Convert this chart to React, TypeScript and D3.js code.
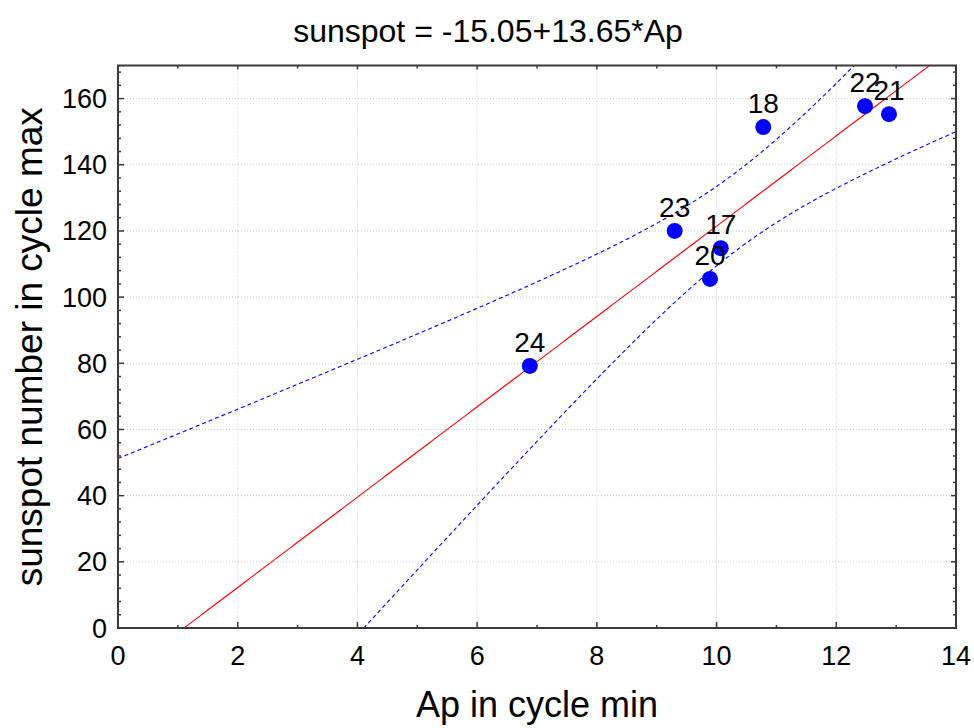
import React from "react";
import * as d3 from "d3";

const cycles = ["17", "18", "20", "21", "22", "23", "24"];
const apMin = [10.07, 10.78, 9.89, 12.88, 12.48, 9.3, 6.88];
const sunspotMax = [114.8, 151.4, 105.5, 155.3, 157.7, 120.0, 79.2];
const intercept = -15.05;
const slope = 13.65;
const tCrit = 2.5706; // t(0.975, df=5)
const xTicks = [0, 2, 4, 6, 8, 10, 12, 14];
const yTicks = [0, 20, 40, 60, 80, 100, 120, 140, 160];

const W = 974;
const H = 728;
const L = 118, R = 956, T = 65.5, B = 628;

export default function App() {
  const x = d3.scaleLinear().domain([0, 14]).range([L, R]);
  const y = d3.scaleLinear().domain([0, 170]).range([B, T]);

  const n = apMin.length;
  const xbar = d3.mean(apMin) as number;
  const sxx = d3.sum(apMin, (v) => (v - xbar) ** 2);
  const sse = d3.sum(apMin, (v, i) => (sunspotMax[i] - (intercept + slope * v)) ** 2);
  const s = Math.sqrt(sse / (n - 2));
  const grid = d3.range(0, 14.0001, 0.05);
  const hw = (v: number) => tCrit * s * Math.sqrt(1 / n + (v - xbar) ** 2 / sxx);
  const fit = (v: number) => intercept + slope * v;

  const line = d3
    .line<number>()
    .x((v) => x(v))
    .y((v) => y(fit(v)));
  const upper = d3
    .line<number>()
    .x((v) => x(v))
    .y((v) => y(fit(v) + hw(v)));
  const lower = d3
    .line<number>()
    .x((v) => x(v))
    .y((v) => y(fit(v) - hw(v)));

  const xMinor = d3.range(0, 14.001, 1);
  const yMinor = d3.range(0, 170.001, 4);
  const font = "'Liberation Sans', Arial, sans-serif";
  const axisColor = "#3a3a3a";

  return (
    <svg width={W} height={H} style={{ position: "absolute", left: 0, top: 0 }} fontFamily={font}>
      <rect width={W} height={H} fill="#fff" />
      <defs>
        <clipPath id="plot">
          <rect x={L} y={T} width={R - L} height={B - T} />
        </clipPath>
      </defs>
      {/* grid */}
      {xTicks.slice(1, -1).map((t) => (
        <line key={"gx" + t} x1={x(t)} x2={x(t)} y1={T} y2={B} stroke="#c8c8c8" strokeDasharray="1,2" />
      ))}
      {yTicks.slice(1).map((t) => (
        <line key={"gy" + t} x1={L} x2={R} y1={y(t)} y2={y(t)} stroke="#c8c8c8" strokeDasharray="1,2" />
      ))}
      <g clipPath="url(#plot)">
        <path d={line(grid) || ""} fill="none" stroke="#ff0000" strokeWidth={1.1} />
        <path d={upper(grid) || ""} fill="none" stroke="#0000ff" strokeWidth={1.1} strokeDasharray="4,3" />
        <path d={lower(grid) || ""} fill="none" stroke="#0000ff" strokeWidth={1.1} strokeDasharray="4,3" />
      </g>
      {/* ticks */}
      {xMinor.map((t) => {
        const major = t % 2 === 0;
        return (
          <g key={"xt" + t}>
            <line x1={x(t)} x2={x(t)} y1={B} y2={B - (major ? 6 : 3)} stroke={axisColor} strokeWidth={1.5} />
            <line x1={x(t)} x2={x(t)} y1={T} y2={T + (major ? 4 : 3)} stroke={axisColor} strokeWidth={1.5} />
          </g>
        );
      })}
      {yMinor.map((t) => {
        const major = t % 20 === 0;
        return (
          <g key={"yt" + t}>
            <line x1={L} x2={L + (major ? 6 : 3)} y1={y(t)} y2={y(t)} stroke={axisColor} strokeWidth={1.5} />
            <line x1={R} x2={R - (major ? 5 : 3)} y1={y(t)} y2={y(t)} stroke={axisColor} strokeWidth={1.5} />
          </g>
        );
      })}
      <rect x={L} y={T} width={R - L} height={B - T} fill="none" stroke={axisColor} strokeWidth={2} />
      {/* points */}
      {apMin.map((v, i) => (
        <g key={"p" + i}>
          <circle cx={x(v)} cy={y(sunspotMax[i])} r={8} fill="#0000ff" />
          <text x={x(v)} y={y(sunspotMax[i]) - 14} textAnchor="middle" fontSize={28} fill="#000">
            {cycles[i]}
          </text>
        </g>
      ))}
      {/* tick labels */}
      {xTicks.map((t) => (
        <text key={"xl" + t} x={x(t)} y={665} textAnchor="middle" fontSize={27} fill="#000">
          {t}
        </text>
      ))}
      {yTicks.map((t) => (
        <text key={"yl" + t} x={107} y={y(t) + 9.5} textAnchor="end" fontSize={27} fill="#000">
          {t}
        </text>
      ))}
      <text x={488} y={41.7} textAnchor="middle" fontSize={32}>
        sunspot = -15.05+13.65*Ap
      </text>
      <text x={537} y={717} textAnchor="middle" fontSize={36}>
        Ap in cycle min
      </text>
      <text transform={`translate(42,${(T + B) / 2}) rotate(-90)`} textAnchor="middle" fontSize={37}>
        sunspot number in cycle max
      </text>
    </svg>
  );
}
